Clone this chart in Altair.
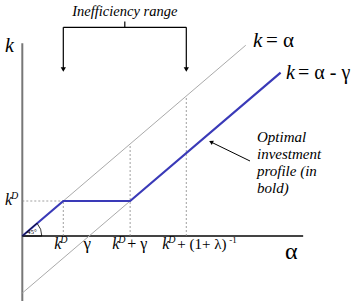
import altair as alt
import pandas as pd

# ---- model values (data units: alpha on x, k on y) ----
kD = 1.0            # k^D
gamma = 1.63        # gamma
inv_lam = 3.0       # (1+lambda)^-1
upper_end = 5.45    # end of k = alpha line
blue_end = 6.3      # end of optimal profile
ax_alpha_max = 6.85
ax_k_min, ax_k_max = -1.86, 5.51

XS = alt.Scale(domain=[-0.544, 8.212], nice=False, zero=False)
YS = alt.Scale(domain=[-1.914, 6.743], nice=False, zero=False)
SERIF = "Liberation Serif"

upper = pd.DataFrame({"a": [0, upper_end], "k": [0, upper_end]})
lower = pd.DataFrame({"a": [0, kD + gamma], "k": [-gamma, kD]})
blue = pd.DataFrame({"a": [0, kD, kD + gamma, blue_end],
                     "k": [0, kD, kD, blue_end - gamma]})
dashed = pd.DataFrame({
    "a":  [kD, 0, kD + gamma, kD + inv_lam],
    "k":  [0, kD, 0, 0],
    "a2": [kD, kD, kD + gamma, kD + inv_lam],
    "k2": [kD, kD, kD + gamma, kD + inv_lam],
})
axes_h = pd.DataFrame({"a": [0], "k": [0], "a2": [ax_alpha_max], "k2": [0]})
axes_v = pd.DataFrame({"a": [0], "k": [ax_k_min], "a2": [0], "k2": [ax_k_max]})
origin = pd.DataFrame({"a": [0], "k": [0]})
bracket = pd.DataFrame({"a": [kD, kD + inv_lam]})
one = pd.DataFrame({"z": [0]})


def X(f="a"):
    return alt.X(f"{f}:Q", scale=XS, axis=None)


def Y(f="k"):
    return alt.Y(f"{f}:Q", scale=YS, axis=None)


def line(df, color, width, dash=None):
    kw = dict(color=color, strokeWidth=width)
    if dash:
        kw["strokeDash"] = dash
    return alt.Chart(df).mark_line(**kw).encode(x=X(), y=Y(), order="a:Q")


def seg(df, color, width, dash=None):
    kw = dict(color=color, strokeWidth=width)
    if dash:
        kw["strokeDash"] = dash
    return alt.Chart(df).mark_rule(**kw).encode(
        x=X(), y=Y(), x2=alt.X2("a2:Q"), y2=alt.Y2("k2:Q"))


def T(text, a=None, px=None, py=0, dx=0, size=15, italic=False, align="left"):
    m = alt.Chart(one).mark_text(
        text=text, dx=dx, fontSize=size, font=SERIF,
        fontStyle="italic" if italic else "normal",
        align=align, baseline="alphabetic", color="black")
    if a is not None:
        xe = alt.XDatum(a, type="quantitative", scale=XS, axis=None)
    else:
        xe = alt.value(px)
    return m.encode(x=xe, y=alt.value(py))


layers = [
    seg(axes_v, "#777777", 2),
    seg(axes_h, "#444444", 1.8),
    seg(dashed, "#888888", 0.8, [2, 2]),
    line(upper, "#aaaaaa", 1),
    line(lower, "#aaaaaa", 1),
    line(blue, "#3a3ab8", 2.2),
    alt.Chart(origin).mark_arc(radius=19.5, fillOpacity=0, stroke="black",
                               strokeWidth=0.8).encode(
        x=X(), y=Y(), theta=alt.value(0.857), theta2=alt.value(1.571)),
    # bracket for inefficiency range
    alt.Chart(bracket).mark_rule(color="black", strokeWidth=1.2).encode(
        x=X(), y=alt.value(27.3), y2=alt.value(68)),
    alt.Chart(bracket).mark_point(shape="triangle-down", filled=True, size=28,
                                  color="black", opacity=1).encode(
        x=X(), y=alt.value(69.5)),
    alt.Chart(pd.DataFrame({"a": [kD], "a2": [kD + inv_lam]})).mark_rule(
        color="black", strokeWidth=1.2).encode(
        x=X(), x2=alt.X2("a2:Q"), y=alt.value(27.3)),
    alt.Chart(pd.DataFrame({"a": [kD + inv_lam / 2]})).mark_rule(
        color="black", strokeWidth=1.2).encode(
        x=X(), y=alt.value(21.5), y2=alt.value(27.3)),
    # annotation arrow
    alt.Chart(one).mark_rule(color="black", strokeWidth=1).encode(
        x=alt.value(250), y=alt.value(161), x2=alt.value(212), y2=alt.value(142.5)),
    alt.Chart(one).mark_point(shape="triangle-up", filled=True, size=22,
                              color="black", opacity=1, angle=296).encode(
        x=alt.value(211), y=alt.value(142)),
    # texts
    T("Inefficiency range", a=kD + inv_lam / 2, py=16, size=14.5, italic=True,
      align="center"),
    T("k", px=5, py=52, size=20, italic=True),
    T("k", px=253, py=47, size=21, italic=True),
    T("= α", px=266, py=47, size=21),
    T("k", px=286, py=79, size=20, italic=True),
    T("= α - γ", px=298, py=79, size=20),
    T("α", px=285, py=259, size=24),
    T("45°", px=27, py=234, size=7),
    T("k", px=5, py=205, size=16, italic=True),
    T("D", px=11, py=199, size=10, italic=True),
    # tick labels on alpha axis
    T("k", a=kD, dx=-9, py=249, size=16, italic=True),
    T("D", a=kD, dx=-3, py=243, size=10, italic=True),
    T("γ", a=gamma, dx=-2, py=249, size=17, align="center"),
    T("k", a=kD + gamma, dx=-18, py=249, size=16, italic=True),
    T("D", a=kD + gamma, dx=-12, py=243, size=10, italic=True),
    T("+ γ", a=kD + gamma, dx=-3, py=249, size=16),
    T("k", a=kD + inv_lam, dx=-24, py=249, size=16, italic=True),
    T("D", a=kD + inv_lam, dx=-18, py=243, size=10, italic=True),
    T("+  (1+ λ)", a=kD + inv_lam, dx=-9, py=249, size=15),
    T("-1", a=kD + inv_lam, dx=43, py=243, size=9),
]

opt_lines = pd.DataFrame({
    "t": ["Optimal", "investment", "profile (in", "bold)"],
    "py": [142, 159, 176, 193],
})
layers.append(
    alt.Chart(opt_lines).mark_text(
        font=SERIF, fontStyle="italic", fontSize=15, align="left",
        baseline="alphabetic", color="black").encode(
        x=alt.value(257), y=alt.Y("py:Q", scale=None), text="t:N"))

chart = alt.layer(*layers).properties(
    width=359, height=303, padding=0,
    autosize=alt.AutoSizeParams(type="none"),
    background="white",
).configure_view(stroke=None)

chart.save("out.html", embed_options={"renderer": "svg", "actions": False})
